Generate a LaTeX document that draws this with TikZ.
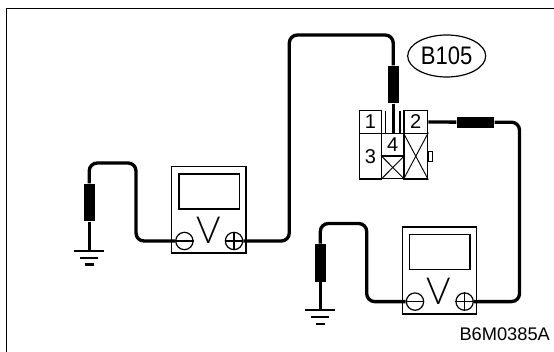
\documentclass[tikz,border=0pt]{standalone}
\usepackage{fontspec}
\setmainfont{Liberation Sans}
\newfontfamily\thinfont{Lato Light}
\usetikzlibrary{shapes.geometric, positioning}
\tikzset{
    wire/.style={line width=2.5pt,rounded corners=6pt},
    thin line/.style={line width=1pt},
    gndbar/.style={line width=1.7pt},
    plugv/.style={fill=black,inner sep=0pt,minimum width=8pt,minimum height=28.4pt},
    plugh/.style={fill=black,inner sep=0pt,minimum width=28.4pt,minimum height=8.4pt},
    cell/.style={draw,line width=1pt,inner sep=0pt,font=\fontsize{15pt}{16pt}\selectfont},
    meterbox/.style={draw,line width=1.1pt,inner sep=0pt,minimum width=55.6pt,minimum height=65pt},
    meterscreen/.style={draw,line width=1.1pt,inner sep=0pt,minimum width=45.3pt,minimum height=26.2pt},
    pole/.style={draw,circle,line width=0.9pt,inner sep=0pt,minimum size=13pt},
}
\newcommand{\meter}[3]{
    \begin{scope}[shift={(#2,#3)}]
        \node[meterbox] (#1) at (37.1,43.2) {};
        \node[meterscreen] (#1screen) at (37.5,24.7) {};
        \node[inner sep=0pt,font=\thinfont\fontsize{28pt}{28pt}\selectfont] (#1V) at (36.8,64) {V};
        \node[pole,fill=white] (#1minus) at (12.7,74.3) {};
        \node[pole,fill=white] (#1plus) at (62.3,74.3) {};
        \draw[thin line] (#1minus.west) -- (#1minus.east);
        \draw[thin line] (#1plus.west) -- (#1plus.east);
        \draw[thin line] (#1plus.north) -- (#1plus.south);
    \end{scope}
}
\newcommand{\earth}[3]{
    \begin{scope}[shift={(#2,#3)}]
        \coordinate (#1) at (0,0);
        \draw[gndbar] (-15,0) -- (15,0);
        \draw[gndbar] (-9,7) -- (9,7);
        \draw[gndbar] (-4.5,13.7) -- (4.5,13.7);
    \end{scope}
}
\begin{document}
\begin{tikzpicture}[x=0.75pt,y=-0.75pt]
    \useasboundingbox (0,0) rectangle (554,352);
    % frame
    \draw[line width=1.2pt] (6.5,352) -- (6.5,8.5) -- (554,8.5);

    % connector
    \node[cell,minimum width=16.8pt,minimum height=17pt] (cell1) at (370.5,122) {1};
    \node[cell,minimum width=17.8pt,minimum height=17pt] (cell2) at (415.8,122) {2};
    \node[cell,minimum width=16.8pt,minimum height=34.3pt] (cell3) at (370.5,156.2) {3};
    \node[cell,minimum width=16.8pt,minimum height=17pt] (cell4) at (392.8,144.7) {4};
    \node[cell,minimum width=16.8pt,minimum height=17pt] (cell5) at (392.8,167.5) {};
    \node[cell,minimum width=17.8pt,minimum height=34.3pt] (cell6) at (415.8,156.2) {};
    \node[draw,line width=0.7pt,inner sep=0pt,minimum width=3pt,minimum height=7.5pt,anchor=west] (tab) at (cell6.east) {};
    \draw[line width=0.7pt] (cell5.north west) -- (cell5.south east);
    \draw[line width=0.7pt] (cell5.south west) -- (cell5.north east);
    \draw[line width=0.7pt] (cell6.north west) -- (cell6.south east);
    \draw[line width=0.7pt] (cell6.south west) -- (cell6.north east);
    \coordinate (slot1) at (385.7,110.7);
    \coordinate (slot2) at (400,110.7);
    \draw[thin line] (slot1) -- (slot1 |- cell4.north);
    \draw[thin line] (slot2) -- (slot2 |- cell4.north);

    % oval
    \node[draw,ellipse,line width=0.9pt,inner sep=0pt,minimum width=58.5pt,minimum height=31.5pt] (oval) at (446.7,56) {};
    \node[inner sep=0pt,xscale=0.87,font=\fontsize{19pt}{20pt}\selectfont] (ovaltext) at (oval) {B105};

    % meters
    \meter{metera}{171.7}{166.7}
    \meter{meterb}{402.3}{227.3}

    % grounds
    \earth{gnda}{89.2}{250.7}
    \earth{gndb}{320.3}{310.3}

    % plugs
    \node[plugv] (pluga) at (393.2,84.5) {};
    \node[plugh] (plugb) at (475.5,122.2) {};
    \node[plugv] (plugc) at (89.2,202.5) {};
    \node[plugv] (plugd) at (320.3,262.8) {};

    % bends
    \coordinate (benda) at (289.3,241);
    \coordinate (bendb) at (289.3,35);
    \coordinate (bendc) at (519.5,122.2);
    \coordinate (bendd) at (519.5,301.6);
    \coordinate (bende) at (136,241);
    \coordinate (bendf) at (136,163);
    \coordinate (bendg) at (89.2,163);
    \coordinate (bendh) at (366.7,301.6);
    \coordinate (bendi) at (366.7,223.5);
    \coordinate (bendj) at (320.3,223.5);
    \coordinate (bendk) at (393.2,35);
    \coordinate (tipa) at (393.2,133);

    % wires
    \draw[wire] (meteraplus.east) -- (benda) -- (bendb) -- (bendk) -- (pluga);
    \draw[wire] (pluga) -- (tipa);
    \draw[wire] (cell2.east) -- (plugb);
    \draw[wire] (plugb) -- (bendc) -- (bendd) -- (meterbplus.east);
    \draw[wire] (meteraminus.west) -- (bende) -- (bendf) -- (bendg) -- (plugc);
    \draw[wire] (plugc) -- (gnda);
    \draw[wire] (meterbminus.west) -- (bendh) -- (bendi) -- (bendj) -- (plugd);
    \draw[wire] (plugd) -- (gndb);

    % label
    \node[inner sep=0pt,font=\fontsize{13.7pt}{14pt}\selectfont] (code) at (504.7,334) {B6M0385A};
\end{tikzpicture}
\end{document}
